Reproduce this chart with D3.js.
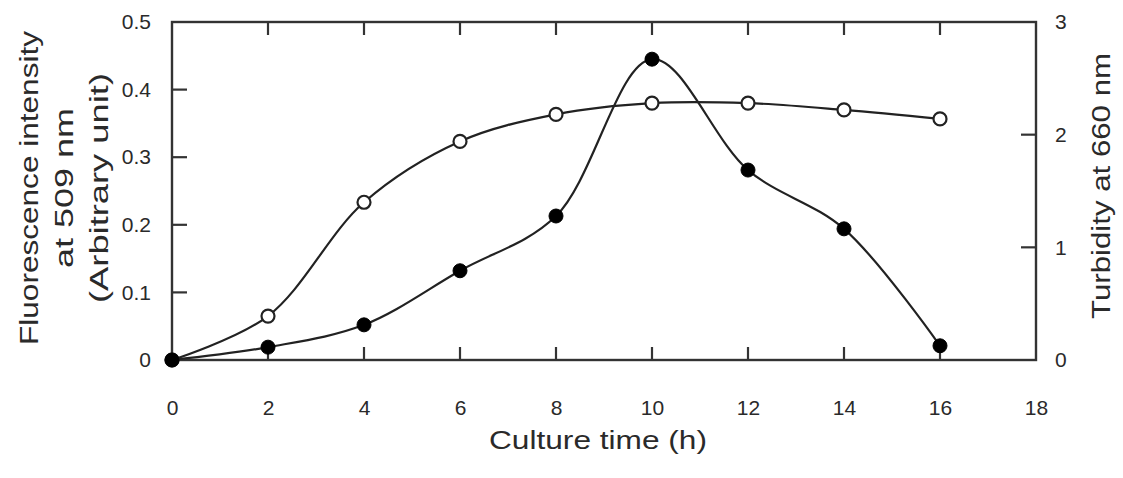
<!DOCTYPE html>
<html><head><meta charset="utf-8">
<script src="https://cdn.jsdelivr.net/npm/d3@7"></script>
<style>
body{margin:0;background:#fff;}
text{font-family:"Liberation Sans",Arial,sans-serif;fill:#2a2a2a;}
</style></head>
<body><svg id="c" width="1123" height="478"></svg>
<script>
const time = [0, 2, 4, 6, 8, 10, 12, 14, 16];
const fluorescence = [0, 0.019, 0.052, 0.132, 0.213, 0.445, 0.281, 0.194, 0.021];
const turbidity = [0, 0.39, 1.40, 1.94, 2.18, 2.28, 2.28, 2.22, 2.14];
const xTicks = [0, 2, 4, 6, 8, 10, 12, 14, 16, 18];
const yLeftTicks = [0, 0.1, 0.2, 0.3, 0.4, 0.5];
const yRightTicks = [0, 1, 2, 3];

const svg = d3.select("#c");
const L = 172, R = 1036, T = 22, B = 360;
const x = d3.scaleLinear().domain([0, 18]).range([L, R]);
const yL = d3.scaleLinear().domain([0, 0.5]).range([B, T]);
const yR = d3.scaleLinear().domain([0, 3]).range([B, T]);

const axisColor = "#333";
const tickFont = "21px";

// frame
svg.append("rect").attr("x", L).attr("y", T).attr("width", R - L).attr("height", B - T)
  .attr("fill", "none").attr("stroke", axisColor).attr("stroke-width", 2.4);

function tickLabels(g) {
  g.select(".domain").remove();
  g.selectAll(".tick line").remove();
  g.selectAll(".tick text").style("font-size", tickFont)
    .style("font-family", "Liberation Sans, Arial, sans-serif").attr("fill", "#2a2a2a");
}
const fmtL = d => d === 0 ? "0" : d3.format(".1f")(d);

// axis labels via d3 axes
svg.append("g").attr("transform", `translate(0,${B})`)
  .call(d3.axisBottom(x).tickValues(xTicks).tickSize(0).tickPadding(40).tickFormat(d3.format("d")))
  .call(tickLabels);
svg.append("g").attr("transform", `translate(${L},0)`)
  .call(d3.axisLeft(yL).tickValues(yLeftTicks).tickSize(0).tickPadding(21).tickFormat(fmtL))
  .call(tickLabels);
svg.append("g").attr("transform", `translate(${R},0)`)
  .call(d3.axisRight(yR).tickValues(yRightTicks).tickSize(0).tickPadding(19).tickFormat(d3.format("d")))
  .call(tickLabels);

// inward tick marks
const tk = svg.append("g").attr("stroke", axisColor).attr("stroke-width", 2.2);
const innerX = xTicks.filter(d => d > 0 && d < 18);
innerX.forEach(d => {
  tk.append("line").attr("x1", x(d)).attr("x2", x(d)).attr("y1", B).attr("y2", B - 13);
  tk.append("line").attr("x1", x(d)).attr("x2", x(d)).attr("y1", T).attr("y2", T + 13);
});
yLeftTicks.filter(d => d > 0 && d < 0.5).forEach(d => {
  tk.append("line").attr("x1", L).attr("x2", L + 15).attr("y1", yL(d)).attr("y2", yL(d));
});
yRightTicks.filter(d => d > 0 && d < 3).forEach(d => {
  tk.append("line").attr("x1", R).attr("x2", R - 15).attr("y1", yR(d)).attr("y2", yR(d));
});

// titles
svg.append("text").attr("x", (L + R) / 2 - 6).attr("y", 449).attr("text-anchor", "middle")
  .attr("textLength", 218).attr("lengthAdjust", "spacingAndGlyphs")
  .style("font-size", "26px").text("Culture time (h)");
const leftLines = ["Fluorescence intensity", "at 509 nm", "(Arbitrary unit)"];
const leftLens = [314, 160, 230];
leftLines.forEach((s, i) => {
  svg.append("text").attr("transform", `translate(${38 + i * 35},188) rotate(-90)`)
    .attr("text-anchor", "middle").attr("textLength", leftLens[i]).attr("lengthAdjust", "spacingAndGlyphs")
    .style("font-size", "26px").text(s);
});
svg.append("text").attr("transform", `translate(1110,186) rotate(-90)`)
  .attr("text-anchor", "middle").attr("textLength", 266).attr("lengthAdjust", "spacingAndGlyphs")
  .style("font-size", "26px").text("Turbidity at 660 nm");

// lines
const lineL = d3.line().x((d, i) => x(time[i])).y(d => yL(d)).curve(d3.curveCatmullRom.alpha(0.5));
const lineR = d3.line().x((d, i) => x(time[i])).y(d => yR(d)).curve(d3.curveCatmullRom.alpha(0.5));
svg.append("path").attr("d", lineR(turbidity)).attr("fill", "none").attr("stroke", "#222").attr("stroke-width", 2.2);
svg.append("path").attr("d", lineL(fluorescence)).attr("fill", "none").attr("stroke", "#222").attr("stroke-width", 2.2);

// points
svg.selectAll(".op").data(turbidity).join("circle")
  .attr("cx", (d, i) => x(time[i])).attr("cy", d => yR(d)).attr("r", 6.5)
  .attr("fill", "#fff").attr("stroke", "#222").attr("stroke-width", 2.2);
svg.selectAll(".fp").data(fluorescence).join("circle")
  .attr("cx", (d, i) => x(time[i])).attr("cy", d => yL(d)).attr("r", 7)
  .attr("fill", "#000").attr("stroke", "#000").attr("stroke-width", 1);
</script></body></html>
